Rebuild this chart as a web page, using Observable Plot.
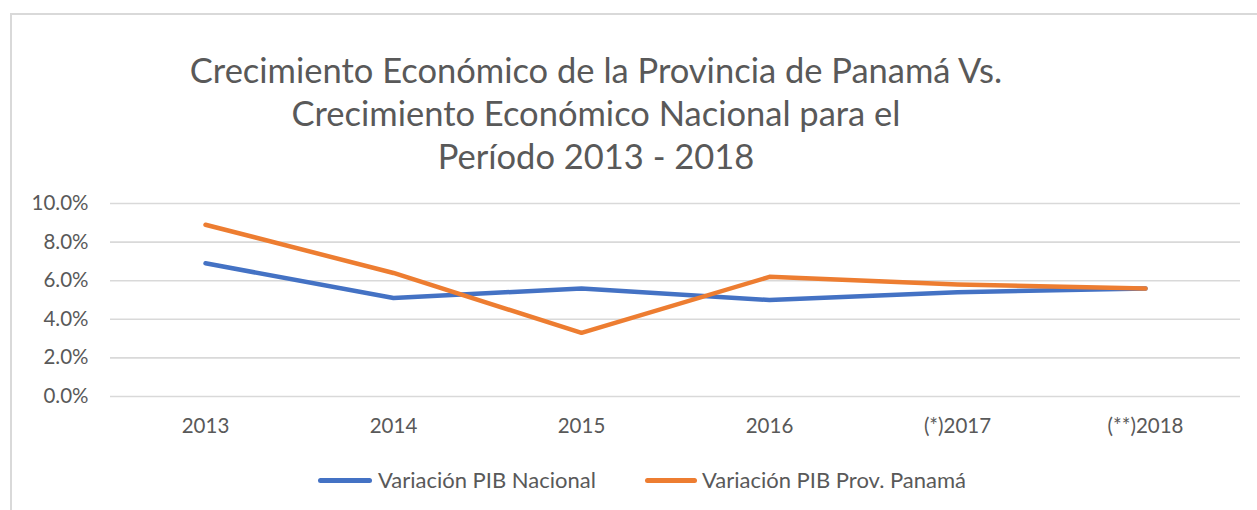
<!DOCTYPE html>
<html>
<head>
<meta charset="utf-8">
<script src="https://cdn.jsdelivr.net/npm/d3@7"></script>
<script src="https://cdn.jsdelivr.net/npm/@observablehq/plot@0.6"></script>
<style>
  html, body { margin: 0; padding: 0; background: #fff; }
  #wrap { position: relative; width: 1257px; height: 510px; overflow: hidden; font-family: Lato, "Open Sans", sans-serif; color: #595959; }
  #frame { position: absolute; left: 10px; top: 13px; width: 1400px; height: 600px; border-left: 2px solid #d9d9d9; border-top: 2px solid #d9d9d9; }
  #title { position: absolute; left: 0; top: 48px; width: 1192px; text-align: center; font-size: 34.5px; line-height: 43px; color: #595959; }
  #chart { position: absolute; left: 0; top: 0; }
  .leg { position: absolute; top: 466px; font-size: 22px; line-height: 28px; color: #595959; white-space: nowrap; }
  .sw { position: absolute; top: 478px; height: 5px; border-radius: 3px; }
</style>
</head>
<body>
<div id="wrap">
  <div id="frame"></div>
  <div id="chart"></div>
  <div id="title">Crecimiento Económico de la Provincia de Panamá Vs.<br>Crecimiento Económico Nacional para el<br>Período 2013 - 2018</div>
  <div id="legend"></div>
</div>
<script>
const years = ["2013", "2014", "2015", "2016", "(*)2017", "(**)2018"];
const nacional = [0.069, 0.051, 0.056, 0.050, 0.054, 0.056];
const provincia = [0.089, 0.064, 0.033, 0.062, 0.058, 0.056];
const seriesNames = ["Variación PIB Nacional", "Variación PIB Prov. Panamá"];
const seriesColors = ["#4472C4", "#ED7D31"];
const yTicks = [0, 0.02, 0.04, 0.06, 0.08, 0.10];

const data = [];
[nacional, provincia].forEach((vals, si) => {
  vals.forEach((v, i) => data.push({year: years[i], value: v, series: seriesNames[si]}));
});

const plot = Plot.plot({
  width: 1257,
  height: 510,
  marginTop: 203,
  marginBottom: 114,
  marginLeft: 110,
  marginRight: 17,
  style: {fontFamily: "Lato, 'Open Sans', sans-serif", fontSize: "20.5px", color: "#595959", background: "transparent"},
  x: {type: "point", domain: years, padding: 0.5, label: null, tickSize: 0, tickPadding: 22},
  y: {domain: [0, 0.1], ticks: yTicks, label: null, tickSize: 0, tickPadding: 22, tickFormat: d => (d * 100).toFixed(1) + "%"},
  color: {domain: seriesNames, range: seriesColors},
  marks: [
    Plot.ruleY(yTicks, {stroke: "#d9d9d9", strokeWidth: 1.6}),
    Plot.axisY({ticks: yTicks, tickSize: 0, tickPadding: 22, tickFormat: d => (d * 100).toFixed(1) + "%", label: null, fill: "#595959"}),
    Plot.axisX({tickSize: 0, tickPadding: 22, label: null, fill: "#595959"}),
    Plot.line(data, {x: "year", y: "value", z: "series", stroke: "series", strokeWidth: 4.5, strokeLinecap: "round", strokeLinejoin: "round"})
  ]
});
document.getElementById("chart").appendChild(plot);

const legend = document.getElementById("legend");
const swX = [318, 645];
const swW = [54, 52];
const txX = [378, 702];
seriesNames.forEach((name, i) => {
  const sw = document.createElement("div");
  sw.className = "sw";
  sw.style.left = swX[i] + "px";
  sw.style.width = swW[i] + "px";
  sw.style.background = seriesColors[i];
  legend.appendChild(sw);
  const t = document.createElement("div");
  t.className = "leg";
  t.style.left = txX[i] + "px";
  t.textContent = name;
  legend.appendChild(t);
});
</script>
</body>
</html>
